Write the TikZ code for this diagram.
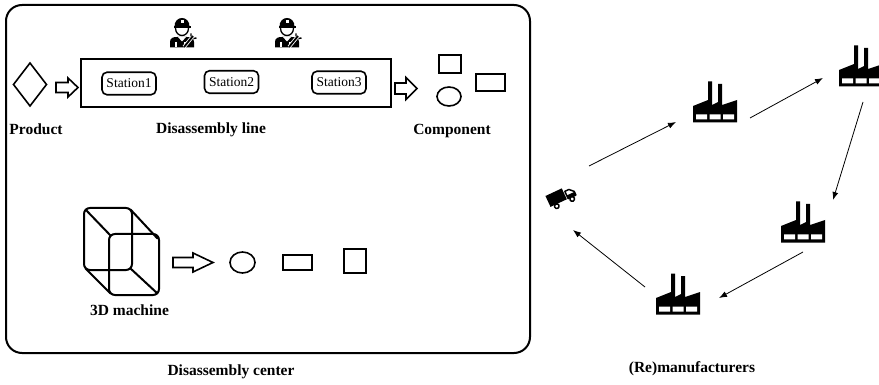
\documentclass[tikz,border=0pt]{standalone}
\usepackage{fontspec}
\setmainfont{Liberation Serif}
\usetikzlibrary{arrows.meta,calc}

% hollow block arrow: left x, neck x, tip x, centre y, shaft half height, head half height
\newcommand{\blockarr}[6]{%
  \draw[blockarrow] (#1,#4-#5) -- (#2,#4-#5) -- (#2,#4-#6) -- (#3,#4)
    -- (#2,#4+#6) -- (#2,#4+#5) -- (#1,#4+#5) -- cycle;}

\tikzset{
  frame/.style={draw, line width=2pt, rounded corners=16pt},
  linebox/.style={draw, line width=2pt, inner sep=0pt},
  stationbox/.style={draw, line width=1.6pt, rounded corners=5pt,
    minimum width=54pt, minimum height=22.5pt, inner sep=0pt,
    font=\fontsize{13.5}{15}\selectfont},
  lbl/.style={font=\bfseries\fontsize{15.5}{18}\selectfont, anchor=base, inner sep=0pt},
  partshape/.style={draw, line width=1.6pt},
  blockarrow/.style={draw, line width=1.6pt, line join=miter},
  cube/.style={draw, line width=2pt, line join=round, line cap=round},
  flow/.style={draw, line width=0.8pt, -{Latex[length=8pt,width=6pt]}},
  iconbox/.style={inner sep=0pt, minimum width=30pt, minimum height=26pt},
  % factory with two chimneys and a row of windows
  factory/.pic={
    \fill (-22,20.5) -- (-22,4) -- (-7,-2) -- (-7,-20.5) -- (-3,-20.5) -- (-3,3)
      -- (3,0) -- (3,-18) -- (7,-18) -- (7,3) -- (22,-2) -- (22,20.5) -- cycle;
    \fill[white] (-19,12.5) rectangle (-8,17.5)
                 (-5.5,12.5) rectangle (5.5,17.5)
                 (8,12.5) rectangle (19,17.5);
  },
  % small lorry
  truck/.pic={
    \fill (-15,-7) rectangle (3,5);
    \filldraw[fill=white, line width=1.5pt, line join=round]
      (4.5,-3) -- (9,-3) -- (13,1) -- (13,5) -- (4.5,5) -- cycle;
    \fill (4.5,1.5) rectangle (13,5);
    \filldraw[fill=white, line width=1.5pt] (-9,7) circle (2.3) (8,7) circle (2.3);
  },
  % mechanic with cap and wrench
  worker/.pic={
    \fill (-7.5,-5) .. controls (-8,-17) and (8,-17) .. (7.5,-5) -- cycle;
    \fill (-8.5,-6) rectangle (8.5,-3.5);
    \fill[white] (-1.5,-12) rectangle (1.5,-9);
    \draw[line width=1.3pt] (-6.5,-4) .. controls (-6.5,6) and (6.5,6) .. (6.5,-4);
    \fill (-12,15.5) -- (-12,10) .. controls (-12,6) and (-9,5) .. (-5,5)
      -- (5,5) .. controls (9,5) and (12,6) .. (12,10) -- (12,15.5) -- cycle;
    \fill[white] (-4,5) -- (0,9.5) -- (4,5) -- cycle;
    \draw[white, line width=1.2pt] (-6,10) -- (-6,15.5) (3,10) -- (3,15.5);
    \draw[white, line width=3.5pt] (2,15) -- (11,4);
    \draw[line width=1.8pt] (2,15) -- (11,4);
    \draw[line width=1.4pt] (9,4.5) -- (9,1.5) (11.5,6.5) -- (14.5,6);
  },
}

\begin{document}
\begin{tikzpicture}[x=1pt, y=-1pt]
\useasboundingbox (0,0) rectangle (879,385);

% ---------- disassembly centre ----------
\draw[frame] (6,5) rectangle (530,353);

% workers above the line
\pic at (182,32) {worker};
\pic at (287,32) {worker};

% product
\draw[partshape, line join=miter] (30,63) -- (46.5,84.5) -- (30,106) -- (13.5,84.5) -- cycle;
\blockarr{56}{68}{78}{87.5}{5}{9.5}

% disassembly line with its stations
\node[linebox, minimum width=310pt, minimum height=48pt] (dline) at (236,83) {};
\node[stationbox] (s1) at (129,83.5) {Station1};
\node[stationbox] (s2) at (231.5,82) {Station2};
\node[stationbox] (s3) at (339,82.5) {Station3};

\blockarr{395}{406}{417}{88.5}{5.5}{11}

% components
\draw[partshape] (439,55) rectangle (461,73);
\draw[partshape] (449,96.5) ellipse [x radius=12, y radius=9.5];
\draw[partshape] (476,74) rectangle (505,91);

\node[lbl] (product) at (36,135) {Product};
\node[lbl] (dlabel) at (211,134) {Disassembly line};
\node[lbl] (component) at (452,135) {Component};

% 3D machine
\draw[cube, rounded corners=6pt] (84,208) rectangle (132,270);
\draw[cube, rounded corners=6pt] (109,234) rectangle (159,295);
\draw[cube] (85.5,209.5) -- (110.5,235.5)
            (130.5,209.5) -- (157.5,238.5)
            (85.5,268.5) -- (110.5,293.5)
            (130.5,268.5) -- (157.5,293.5);
\node[lbl] (machine) at (129.5,315) {3D machine};

\blockarr{173}{193}{213}{262.5}{5}{9.5}

\draw[partshape] (242.5,262.5) ellipse [x radius=12.5, y radius=10.5];
\draw[partshape] (283,255) rectangle (312,270);
\draw[partshape] (344,249) rectangle (366,273);

\node[lbl] (center) at (231,375) {Disassembly center};

% ---------- (re)manufacturers ----------
\node[iconbox] (truck) at (562,196) {};
\pic[rotate=25] at (562,196) {truck};

\node[iconbox] (f1) at (715,102) {};
\node[iconbox] (f2) at (861,66) {};
\node[iconbox] (f3) at (803,222) {};
\node[iconbox] (f4) at (678,294) {};
\pic at (715,102) {factory};
\pic at (861,66) {factory};
\pic at (803,222) {factory};
\pic at (678,294) {factory};

\draw[flow] ($(truck)+(27,-30)$) -- ($(f1)+(-39,20)$);
\draw[flow] ($(f1)+(35,16)$) -- ($(f2)+(-38,12)$);
\draw[flow] ($(f2)+(2,36)$) -- ($(f3)+(30,-22)$);
\draw[flow] ($(f3)+(0,30)$) -- ($(f4)+(41,4)$);
\draw[flow] ($(f4)+(-33,-7)$) -- ($(truck)+(11,34)$);

\node[lbl] (remf) at (692,372) {(Re)manufacturers};
\end{tikzpicture}
\end{document}
